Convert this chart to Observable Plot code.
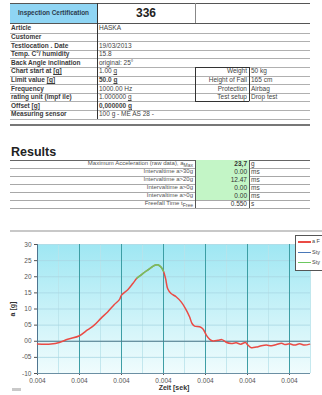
<!DOCTYPE html>
<html>
<head>
<meta charset="utf-8">
<script src="https://cdn.jsdelivr.net/npm/d3@7"></script>
<script src="https://cdn.jsdelivr.net/npm/@observablehq/plot@0.6"></script>
<style>
  html, body { margin: 0; padding: 0; }
  body { width: 322px; height: 395px; overflow: hidden; background: #fff; position: relative;
         font-family: "Liberation Sans", Arial, sans-serif; color: #333; }
  .t { position: absolute; white-space: nowrap; font-size: 6.5px; line-height: 8px; }
  .ln { position: absolute; }
  #chart { position: absolute; left: 0; top: 232px; }
  #legend { position: absolute; left: 295px; top: 235px; width: 45px; height: 34px;
            background: #fff; border: 1px solid #555; }
  #legend .item { position: absolute; left: 2px; font-size: 5.5px; line-height: 8px; color: #444; white-space: nowrap; }
  #legend .sw { display: inline-block; width: 13px; height: 0; vertical-align: middle; margin-right: 1px; }
</style>
</head>
<body>
<div id="sheet"></div>
<div id="chart"></div>
<div id="legend"></div>
<script>
// ---- Test sheet ----
const certTitle = "Inspection Certification";
const certNumber = "336";
const specLabels = ["Article", "Customer", "Testlocation . Date", "Temp. C°/ humidity",
  "Back Angle inclination", "Chart start at [g]", "Limit value [g]", "Frequency",
  "rating unit (lmpf ile)", "Offset [g]", "Measuring sensor"];
const specValues = ["HASKA", "", "19/03/2013", "15.8", "original: 25°", "1.00 g", "50.0 g",
  "1000.00 Hz", "1.000000 g", "0,000000 g", "100 g - ME AS 28 -"];
const setupLabels = ["Weight", "Height of Fall", "Protection", "Test setup"];
const setupValues = ["50 kg", "165 cm", "Airbag", "Drop test"];

// ---- Results ----
const resultLabels = ["Maximum Acceleration (raw data), a<sub>Max</sub>", "Intervaltime a>30g",
  "Intervaltime a>20g", "Intervaltime a>0g", "Intervaltime a>0g", "Freefall Time t<sub>Free</sub>"];
const resultValues = ["23,7", "0.00", "12.47", "0.00", "0.00", "0.550"];
const resultUnits = ["g", "ms", "ms", "ms", "ms", "s"];

// ---- Acceleration curve (x in axis steps, a in g) ----
const tStep = [0.00, 0.32, 0.52, 0.72, 1.00, 1.19, 1.35, 1.51, 1.67, 1.83, 1.95, 2.00, 2.15,
  2.27, 2.37, 2.47, 2.58, 2.69, 2.78, 2.86, 2.94, 3.00, 3.05, 3.10, 3.18, 3.30, 3.42, 3.52,
  3.62, 3.68, 3.74, 3.86, 3.94, 4.02, 4.10, 4.18, 4.30, 4.39, 4.49, 4.61, 4.73, 4.84, 4.95,
  5.01, 5.09, 5.21, 5.33, 5.45, 5.57, 5.69, 5.81, 5.89, 6.00, 6.12, 6.24, 6.36, 6.48];
const accel = [-0.85, -0.85, -0.4, 0.6, 1.7, 3.5, 5.0, 7.1, 9.1, 11.4, 12.9, 14.3, 16.0,
  17.9, 19.6, 20.6, 21.7, 22.7, 23.5, 23.7, 23.0, 21.7, 19.4, 16.3, 14.8, 13.8, 12.2, 10.2,
  7.6, 5.5, 4.7, 4.5, 3.8, 1.9, 0.6, 0.1, 0.3, 0.5, -0.3, -0.7, -0.5, -0.9, -0.4,
  -1.2, -2.0, -1.8, -1.4, -1.2, -1.4, -1.0, -0.6, -1.0, -0.8, -1.2, -0.8, -1.2, -0.9];
const xTicks = [0, 1, 2, 3, 4, 5, 6];
const xTickLabels = ["0.004", "0.004", "0.004", "0.004", "0.004", "0.004", "0.004"];
const yTicks = [30, 25, 20, 15, 10, 5, 0, -5, -10];
const yTickLabels = ["30", "25", "20", "15", "10", "05", "00", "-05", "-10"];
const legendNames = ["a F", "Sty", "Sty"];
const limitG = 20; // highlighted band of the curve: a > 20 g

// ---- helpers for the sheet ----
const sheet = document.getElementById("sheet");
function hline(x1, x2, y, color = "#a8a8a8", w = 1) {
  const d = document.createElement("div");
  d.className = "ln";
  Object.assign(d.style, {left: x1 + "px", top: y + "px", width: (x2 - x1) + "px", height: w + "px", background: color});
  sheet.appendChild(d);
}
function vline(x, y1, y2, color = "#444", w = 1) {
  const d = document.createElement("div");
  d.className = "ln";
  Object.assign(d.style, {left: x + "px", top: y1 + "px", width: w + "px", height: (y2 - y1) + "px", background: color});
  sheet.appendChild(d);
}
function box(x, y, w, h, bg) {
  const d = document.createElement("div");
  d.className = "ln";
  Object.assign(d.style, {left: x + "px", top: y + "px", width: w + "px", height: h + "px", background: bg});
  sheet.appendChild(d);
}
function text(html, x, yMid, {align = "left", bold = false, size = 6.5, color = "#333"} = {}) {
  const d = document.createElement("div");
  d.className = "t";
  d.innerHTML = html;
  d.style.fontSize = size + "px";
  d.style.lineHeight = (size * 1.2) + "px";
  d.style.top = (yMid - size * 0.6) + "px";
  d.style.color = color;
  if (bold) d.style.fontWeight = "bold";
  if (align === "right") { d.style.right = (322 - x) + "px"; d.style.textAlign = "right"; }
  else if (align === "center") { d.style.left = (x - 60) + "px"; d.style.width = "120px"; d.style.textAlign = "center"; }
  else d.style.left = x + "px";
  sheet.appendChild(d);
}
const ul = s => s.replace(/\[g\]/, "<u>[g]</u>");

// header row
box(10, 3, 87, 20, "#8fd5f4");
text(certTitle, 53.5, 13, {align: "center", bold: true, size: 6.4, color: "#2b3b4c"});
text(certNumber, 146, 13, {align: "center", bold: true, size: 12, color: "#222"});
hline(10, 310, 3, "#555");
hline(10, 310, 23, "#555");
vline(195, 3, 23, "#888");

// specification rows
const rowTop = i => 24 + i * 8.6;
specLabels.forEach((lab, i) => {
  const mid = rowTop(i) + 4.3;
  text(ul(lab), 11, mid, {bold: true, color: "#3a3a3a"});
  const v = specValues[i];
  const boldVal = v === "50.0 g" || v === "0,000000 g";
  text(v.replace(/ g$/, " <u>g</u>"), 99, mid, {bold: boldVal, color: "#444"});
  hline(10, 310, rowTop(i + 1), "#b0b0b0");
});
vline(97, 3, rowTop(11), "#333", 1.4);

// test set-up box
setupLabels.forEach((lab, i) => {
  const mid = rowTop(5 + i) + 4.3;
  text(lab, 247, mid, {align: "right", color: "#444"});
  text(setupValues[i], 251, mid, {color: "#444"});
});
const sbTop = rowTop(5), sbBot = rowTop(9);
hline(195, 249, sbTop, "#333");
hline(195, 249, sbBot, "#333");
vline(195, sbTop, sbBot, "#333");
vline(249, sbTop, sbBot, "#333");

// section divider and results header
hline(10, 310, 124, "#777", 1.5);
text("Results", 11, 152.5, {bold: true, size: 12.5, color: "#222"});
hline(10, 310, 160, "#666", 1.2);

const resTop = i => 160 + i * 8;
resultLabels.forEach((lab, i) => {
  const mid = resTop(i) + 4;
  if (i < 5) box(195, resTop(i), 54, 8, "#c3f5c6");
  text(lab, 193, mid, {align: "right", size: 6, color: "#555"});
  text(resultValues[i], 247, mid, {align: "right", bold: i === 0, color: "#333"});
  text(resultUnits[i], 251, mid, {color: "#444"});
  hline(10, 310, resTop(i + 1), "#a8a8a8");
});
vline(195, 160, resTop(6), "#555");
vline(249, 160, resTop(6), "#555");

// chart object border and small icon
hline(10, 322, 230, "#c8c8c8", 1.5);
box(12, 388, 9, 3, "#c9c9c9");

// ---- Chart ----
const curve = tStep.map((t, i) => ({t, a: accel[i]}));
const minorX = [0.5, 1.5, 2.5, 3.5, 4.5, 5.5, 6.5];

const chart = Plot.plot({
  width: 322,
  height: 163,
  marginTop: 12,
  marginBottom: 22,
  marginLeft: 37,
  marginRight: 12,
  style: {fontFamily: "Liberation Sans, Arial, sans-serif", fontSize: "6.5px", color: "#555", background: "transparent", overflow: "visible"},
  x: {domain: [0, 6.5], ticks: xTicks, tickFormat: (d, i) => xTickLabels[i], tickSize: 2, tickPadding: 3,
      label: "Zeit [sek]", labelAnchor: "center", labelOffset: 16, labelArrow: "none"},
  y: {domain: [-10, 30], ticks: yTicks, tickFormat: (d, i) => yTickLabels[i], tickSize: 3, tickPadding: 3,
      label: "a [g]", labelAnchor: "center", labelOffset: 27, labelArrow: "none"},
  marks: [
    Plot.frame({fill: "url(#plotBg)", stroke: null}),
    Plot.ruleX(minorX, {stroke: "#b9e2ea", strokeWidth: 0.8}),
    Plot.ruleY(yTicks, {stroke: "#a8d7e3", strokeWidth: 0.8}),
    Plot.ruleX(xTicks.slice(1), {stroke: "#3d9ea5", strokeWidth: 1}),
    Plot.ruleY([0], {stroke: "#4d7888", strokeWidth: 1}),
    Plot.ruleY([-10], {stroke: "#6b8fa3", strokeWidth: 1}),
    Plot.ruleX([0], {stroke: "#4f7590", strokeWidth: 1}),
    Plot.line(curve, {x: "t", y: "a", stroke: "#ea4b45", strokeWidth: 1.5, curve: "catmull-rom"}),
    Plot.line(curve.filter(d => d.a >= limitG - 0.5), {x: "t", y: "a", stroke: "#6cc860", strokeWidth: 1.5, curve: "catmull-rom"})
  ]
});

// background gradient of the plot area
const ns = "http://www.w3.org/2000/svg";
const defs = document.createElementNS(ns, "defs");
const grad = document.createElementNS(ns, "linearGradient");
grad.setAttribute("id", "plotBg");
grad.setAttribute("x1", "0"); grad.setAttribute("y1", "0");
grad.setAttribute("x2", "0"); grad.setAttribute("y2", "1");
[["0", "#9fe7f3"], ["1", "#f0fcfd"]].forEach(([o, c]) => {
  const s = document.createElementNS(ns, "stop");
  s.setAttribute("offset", o); s.setAttribute("stop-color", c);
  grad.appendChild(s);
});
defs.appendChild(grad);
chart.insertBefore(defs, chart.firstChild);

// axis titles styling
chart.querySelectorAll("[aria-label='x-axis label'] text, [aria-label='y-axis label'] text").forEach(t => {
  t.setAttribute("font-weight", "bold");
  t.setAttribute("fill", "#333");
  t.style.fontSize = "7px";
});
document.getElementById("chart").appendChild(chart);

// legend
const legend = document.getElementById("legend");
const legendColors = ["#ea4b45", "#4a78b8", "#6cc860"];
legendNames.forEach((name, i) => {
  const it = document.createElement("div");
  it.className = "item";
  it.style.top = (1 + i * 10.5) + "px";
  it.innerHTML = `<span class="sw" style="border-top:${i === 0 ? 2 : 1.2}px solid ${legendColors[i]}"></span>${name}`;
  legend.appendChild(it);
});
</script>
</body>
</html>
